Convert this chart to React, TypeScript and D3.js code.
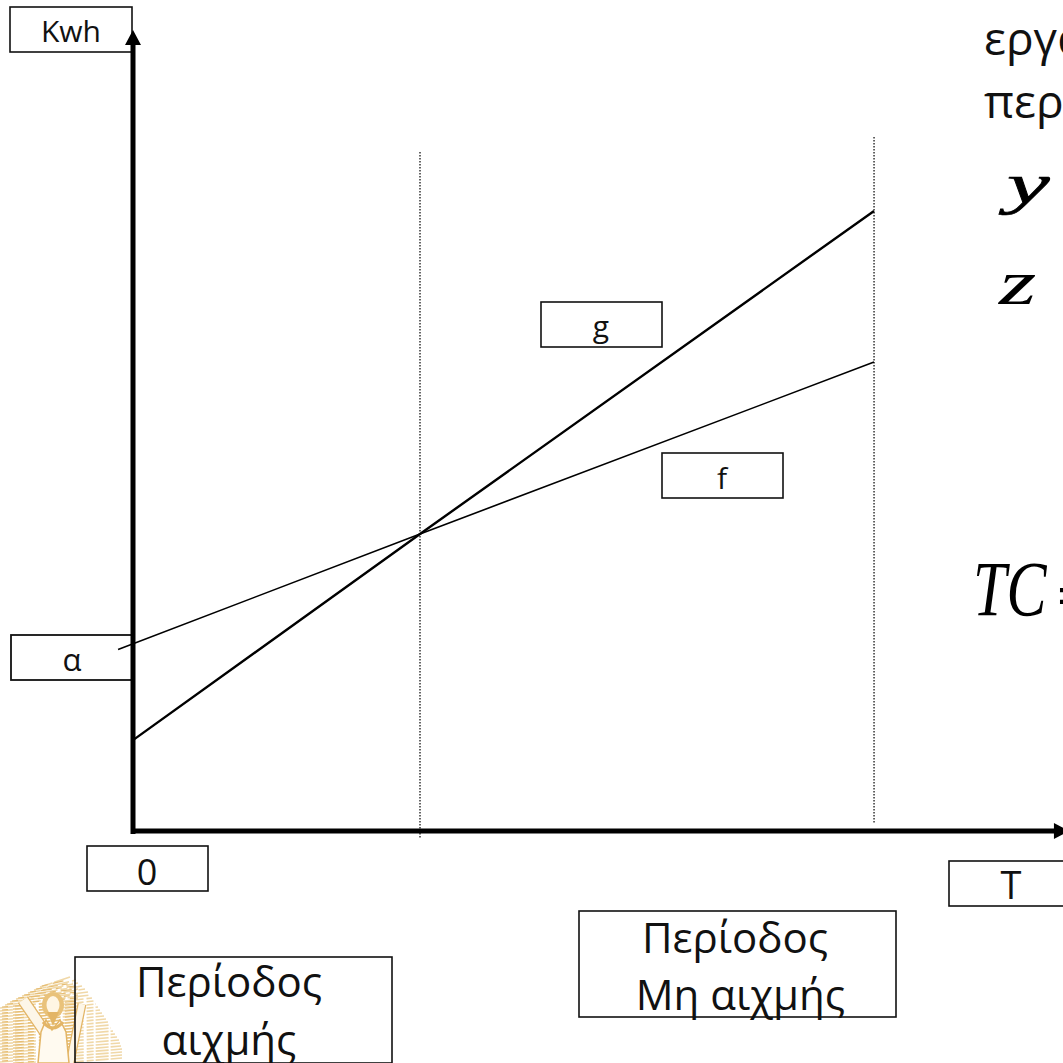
import React from "react";
import * as d3 from "d3";

// Values (T in period units, kWh in arbitrary units)
const periodBoundaries = [1, 2.582];
const lineF = [{ t: -0.052, v: 60.5 }, { t: 1, v: 99 }, { t: 2.582, v: 156.3 }];
const lineG = [{ t: 0, v: 30.3 }, { t: 1, v: 99 }, { t: 2.582, v: 206.7 }];
const axisTop = 267;
const axisRight = 3.261;

const labelBoxes = [
  { lines: ["Kwh"], x: 10, y: 7, w: 122, h: 45, size: 30, baselines: [42], cx: 71, sw: 1.6 },
  { lines: ["α"], x: 11, y: 635, w: 121, h: 45, size: 31, baselines: [671], cx: 72, sw: 1.8 },
  { lines: ["0"], x: 87, y: 846, w: 121, h: 45, size: 36, baselines: [885], cx: 147, sw: 1.6 },
  { lines: ["T"], x: 949, y: 861, w: 130, h: 45, size: 38, baselines: [899], cx: 1011, sw: 1.6 },
  { lines: ["g"], x: 541, y: 302, w: 121, h: 45, size: 30, baselines: [337], cx: 601, sw: 1.6 },
  { lines: ["f"], x: 662, y: 453, w: 121, h: 45, size: 30, baselines: [489], cx: 722, sw: 1.6 },
  { lines: ["Περίοδος", " Μη αιχμής"], x: 579, y: 911, w: 317, h: 106, size: 42, baselines: [953, 1010], cx: 735, sw: 1.6 },
  { lines: ["Περίοδος", "αιχμής"], x: 75, y: 957, w: 317, h: 106, size: 42, baselines: [997, 1055], cx: 229, sw: 1.6 },
];

const sideText = [
  { s: "εργα", x: 984, y: 55, size: 46 },
  { s: "περ", x: 984, y: 118, size: 46 },
];
const mathText = [
  { s: "y", x: 1007, y: 203, size: 60, weight: 400, sx: 1.6, sy: 0.95, extra: 0.7 },
  { s: "z", x: 999, y: 304, size: 60, weight: 400, sx: 1.6, sy: 1.05, extra: 0 },
  { s: "TC", x: 973, y: 615, size: 79, weight: 400, sx: 0.76, sy: 1, extra: 0 },
  { s: "=", x: 1057, y: 615, size: 60, weight: 700, sx: 1, sy: 1, extra: 0 },
];

// Crest hatch rows: y, x start, x end
const crestRows = [
  [982, 40, 70], [985, 34, 76], [988, 28, 78], [991, 22, 82], [994, 16, 85], [997, 10, 88],
  [1000, 5, 90], [1003, 0, 92], [1006, 0, 94], [1009, 0, 96], [1012, 0, 98], [1015, 0, 100],
  [1018, 0, 102], [1021, 0, 104], [1024, 0, 106], [1027, 0, 108], [1030, 0, 110], [1033, 0, 111],
  [1036, 0, 113], [1039, 0, 115], [1042, 0, 117], [1045, 0, 119], [1048, 0, 120], [1051, 0, 121],
  [1054, 0, 122], [1057, 0, 122], [1060, 0, 122], [1063, 0, 122],
];

const FONT = "'Open Sans', sans-serif";

export default function App() {
  const x = d3.scaleLinear().domain([0, 1]).range([133, 420]);
  const y = d3.scaleLinear().domain([0, 100]).range([831, 531]);
  const path = d3
    .line<{ t: number; v: number }>()
    .x((d) => x(d.t))
    .y((d) => y(d.v));
  const x0 = x(0);
  const y0 = y(0);
  return (
    <svg
      width={1063}
      height={1063}
      viewBox="0 0 1063 1063"
      style={{ position: "absolute", left: 0, top: 0, background: "#fff" }}
    >
      <g>
        {crestRows.map(([ry, a, b], i) => (
          <line key={i} x1={a} x2={b} y1={ry + 5} y2={ry - 5} stroke="#f0d8a8" strokeWidth={1.6} strokeDasharray="13 2 21 3 7 2" />
        ))}
        {crestRows.map(([ry, a, b], i) => (
          <line key={"b" + i} x1={a + 2} x2={Math.min(b - 3, 78)} y1={ry + 4} y2={ry - 2} stroke="#e6bd73" strokeWidth={1.2} strokeDasharray="6 5 11 4" />
        ))}
      </g>
      <g>
        <line x1={23} y1={1000} x2={66} y2={1063} stroke="#e3b566" strokeWidth={12} />
        <line x1={23} y1={1000} x2={66} y2={1063} stroke="#fdf6e8" strokeWidth={9.5} />
        <line x1={82} y1={1004} x2={70} y2={1063} stroke="#e3b566" strokeWidth={9} />
        <line x1={82} y1={1004} x2={70} y2={1063} stroke="#fdf6e8" strokeWidth={6.5} />
        <path d="M38 1063 L41 1032 L46 1020 L52 1030 L60 1020 L66 1032 L69 1063 Z" fill="#fffaf0" stroke="#e3b566" strokeWidth={1.5} />
        <ellipse cx={53} cy={1005} rx={11} ry={13} fill="#e9c27a" />
        <ellipse cx={53} cy={1005} rx={6.5} ry={9} fill="#fff6e4" />
        <path d="M47 1012 L53 1026 L59 1012 Z" fill="#e3b566" />
        <path d="M43 1022 Q53 1034 63 1022" fill="none" stroke="#e3b566" strokeWidth={3} />
      </g>

      {periodBoundaries.map((b, i) => (
        <line
          key={i}
          x1={x(b)}
          x2={x(b)}
          y1={i === 0 ? 152 : 137}
          y2={i === 0 ? 838 : 824}
          stroke="#000"
          strokeWidth={1.2}
          strokeDasharray="1.5 1.5"
        />
      ))}

      {labelBoxes.map((b, i) => (
        <g key={i}>
          <rect x={b.x} y={b.y} width={b.w} height={b.h} fill="none" stroke="#111" strokeWidth={b.sw} />
          {b.lines.map((l, j) => (
            <text
              key={j}
              x={b.cx}
              y={b.baselines[j]}
              textAnchor="middle"
              fontFamily={FONT}
              fontSize={b.size}
              fill="#111"
              xmlSpace="preserve"
            >
              {l}
            </text>
          ))}
        </g>
      ))}

      <path d={path(lineF) ?? ""} fill="none" stroke="#000" strokeWidth={1.6} />
      <path d={path(lineG) ?? ""} fill="none" stroke="#000" strokeWidth={2.4} />

      <line x1={x0} x2={x0} y1={y0 + 3} y2={y(axisTop) + 14} stroke="#000" strokeWidth={5} />
      <path d={`M${x0 - 8} ${y(axisTop) + 15} L${x0} ${y(axisTop)} L${x0 + 8} ${y(axisTop) + 15} Z`} fill="#000" />
      <line x1={x0} x2={x(axisRight) - 10} y1={y0} y2={y0} stroke="#000" strokeWidth={5} />
      <path d={`M${x(axisRight) - 15} ${y0 - 8} L${x(axisRight)} ${y0} L${x(axisRight) - 15} ${y0 + 8} Z`} fill="#000" />

      {sideText.map((t, i) => (
        <text key={i} x={t.x} y={t.y} fontFamily={FONT} fontSize={t.size} fill="#111">
          {t.s}
        </text>
      ))}
      {mathText.map((t, i) => (
        <text
          key={i}
          transform={`translate(${t.x},${t.y}) scale(${t.sx},${t.sy})`}
          fontFamily="'Liberation Serif', serif"
          fontStyle={t.s === "=" ? "normal" : "italic"}
          fontWeight={t.weight}
          fontSize={t.size}
          fill="#000"
          stroke="#000"
          strokeWidth={t.extra}
        >
          {t.s}
        </text>
      ))}
    </svg>
  );
}
